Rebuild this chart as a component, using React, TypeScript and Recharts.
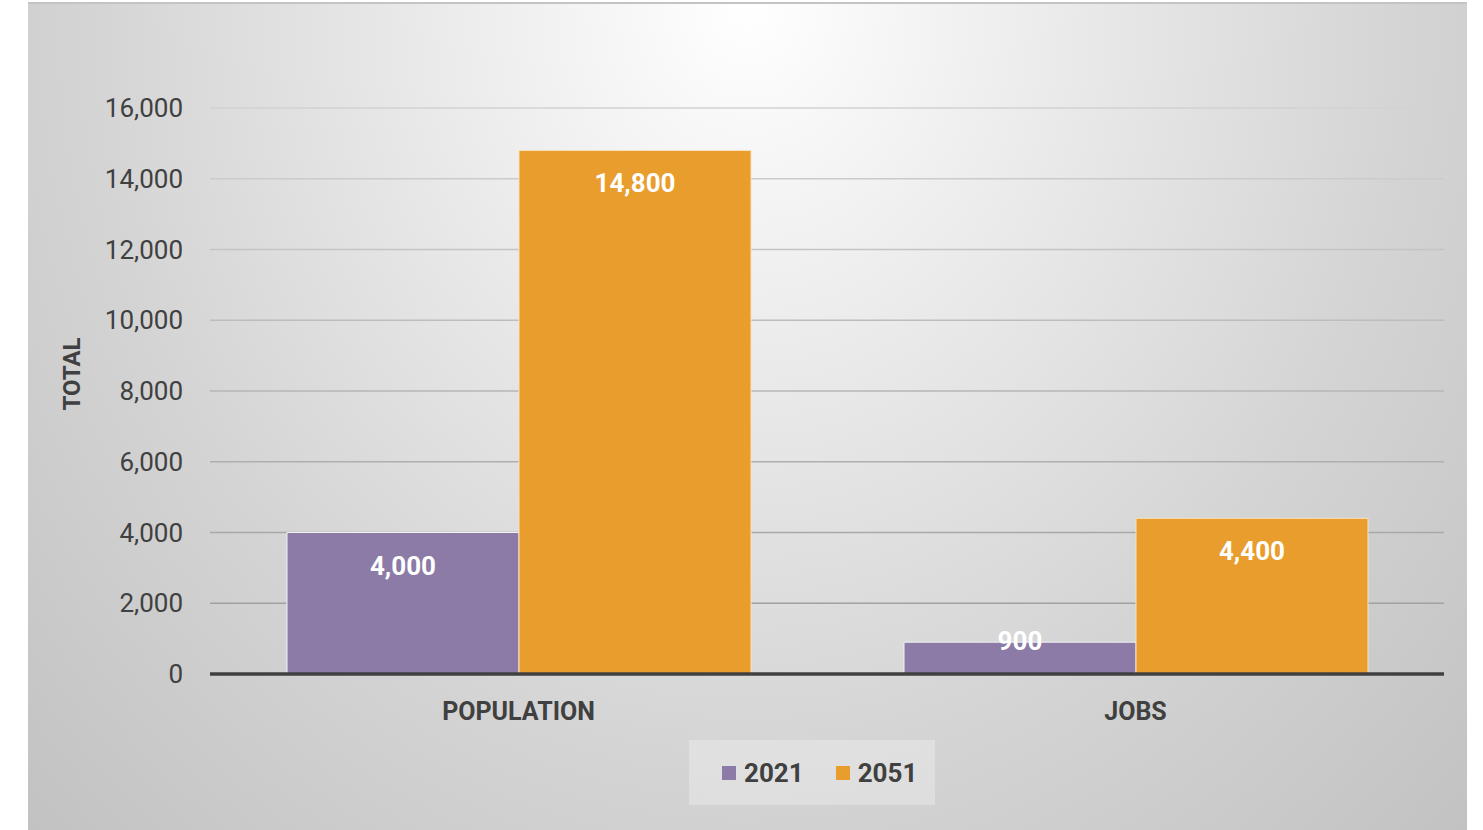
import React from 'react';
import { BarChart, Bar, XAxis, YAxis, CartesianGrid, Legend, LabelList } from 'recharts';

const categories = ['POPULATION', 'JOBS'];
const values2021 = [4000, 900];
const values2051 = [14800, 4400];
const yTicks = [0, 2000, 4000, 6000, 8000, 10000, 12000, 14000, 16000];

const colors = { y2021: '#8c7ba7', y2051: '#e99d2d' };
const textColor = '#404040';

const data = categories.map((name, i) => ({
  name,
  y2021: values2021[i],
  y2051: values2051[i],
}));

const fmt = (v: number) => v.toLocaleString('en-US');

const renderBarLabel = (props: any) => {
  const { x, y, width, height, value } = props;
  // small bars get the label pushed up to the bar top, like Excel does
  const cy = height > 60 ? y + 33 : y - 1;
  return (
    <text
      x={x + width / 2}
      y={cy}
      textAnchor="middle"
      dominantBaseline="central"
      fill="#ffffff"
      fontSize={26}
      fontWeight={700}
    >
      {fmt(value)}
    </text>
  );
};

const renderLegend = (props: any) => {
  const { payload } = props;
  return (
    <div
      style={{
        width: 246,
        height: 65,
        boxSizing: 'border-box',
        paddingLeft: 33,
        background: 'rgba(255,255,255,0.28)',
        display: 'flex',
        alignItems: 'center',
        gap: 32,
      }}
    >
      {(payload || []).map((entry: any) => (
        <span key={entry.value} style={{ display: 'flex', alignItems: 'center' }}>
          <span style={{ width: 14, height: 14, background: entry.color, marginRight: 8 }} />
          <span style={{ fontSize: 26, fontWeight: 700, color: textColor, lineHeight: '26px' }}>
            {entry.value}
          </span>
        </span>
      ))}
    </div>
  );
};

const renderYTitle = () => (
  <text
    x={72}
    y={374}
    transform="rotate(-90 72 374)"
    textAnchor="middle"
    dominantBaseline="central"
    fill={textColor}
    fontSize={24}
    fontWeight={700}
  >
    TOTAL
  </text>
);

export default function App() {
  return (
    <div
      style={{
        position: 'absolute',
        left: 0,
        top: 0,
        width: 1483,
        height: 830,
        background: '#ffffff',
        overflow: 'hidden',
        fontFamily: 'Roboto, sans-serif',
      }}
    >
      <div
        style={{
          position: 'absolute',
          left: 28,
          top: 2,
          width: 1439,
          height: 828,
          boxSizing: 'border-box',
          borderTop: '2px solid #c4c4c4',
          background:
            'radial-gradient(ellipse farthest-corner at 50% 0%, #ffffff 0%, #ebebeb 30%, #d4d4d4 65%, #c2c2c2 100%)',
        }}
      />
      <svg width={0} height={0} style={{ position: 'absolute' }}>
        <defs>
          <linearGradient id="gridGrad" gradientUnits="userSpaceOnUse" x1="0" y1="108" x2="0" y2="674">
            <stop offset="0%" stopColor="#d2d2d2" />
            <stop offset="100%" stopColor="#9a9a9a" />
          </linearGradient>
        </defs>
      </svg>
      <div style={{ position: 'absolute', left: 0, top: 0 }}>
        <BarChart
          width={1483}
          height={830}
          data={data}
          margin={{ top: 108, right: 39, left: 0, bottom: 51 }}
          barCategoryGap={77}
          barGap={0}
        >
          <CartesianGrid vertical={false} stroke="url(#gridGrad)" strokeWidth={1.6} />
          <XAxis
            dataKey="name"
            height={40}
            axisLine={{ stroke: textColor, strokeWidth: 3.5 }}
            tickLine={false}
            tickMargin={22}
            tick={{ fill: textColor, fontSize: 25, fontWeight: 700 }}
          />
          <YAxis
            width={210}
            domain={[0, 16000]}
            ticks={yTicks}
            interval={0}
            axisLine={false}
            tickLine={false}
            tickMargin={21}
            tickFormatter={fmt}
            tick={{ fill: textColor, fontSize: 26 }}
            label={{ content: renderYTitle }}
          />
          <Legend
            verticalAlign="bottom"
            content={renderLegend}
            wrapperStyle={{ left: 689, top: 740, bottom: 'auto', width: 246, height: 65 }}
          />
          <Bar dataKey="y2021" name="2021" fill={colors.y2021} stroke="#f3f3f3" strokeWidth={1} isAnimationActive={false}>
            <LabelList dataKey="y2021" content={renderBarLabel} />
          </Bar>
          <Bar dataKey="y2051" name="2051" fill={colors.y2051} stroke="#f7e2c0" strokeWidth={1} isAnimationActive={false}>
            <LabelList dataKey="y2051" content={renderBarLabel} />
          </Bar>
        </BarChart>
      </div>
    </div>
  );
}
